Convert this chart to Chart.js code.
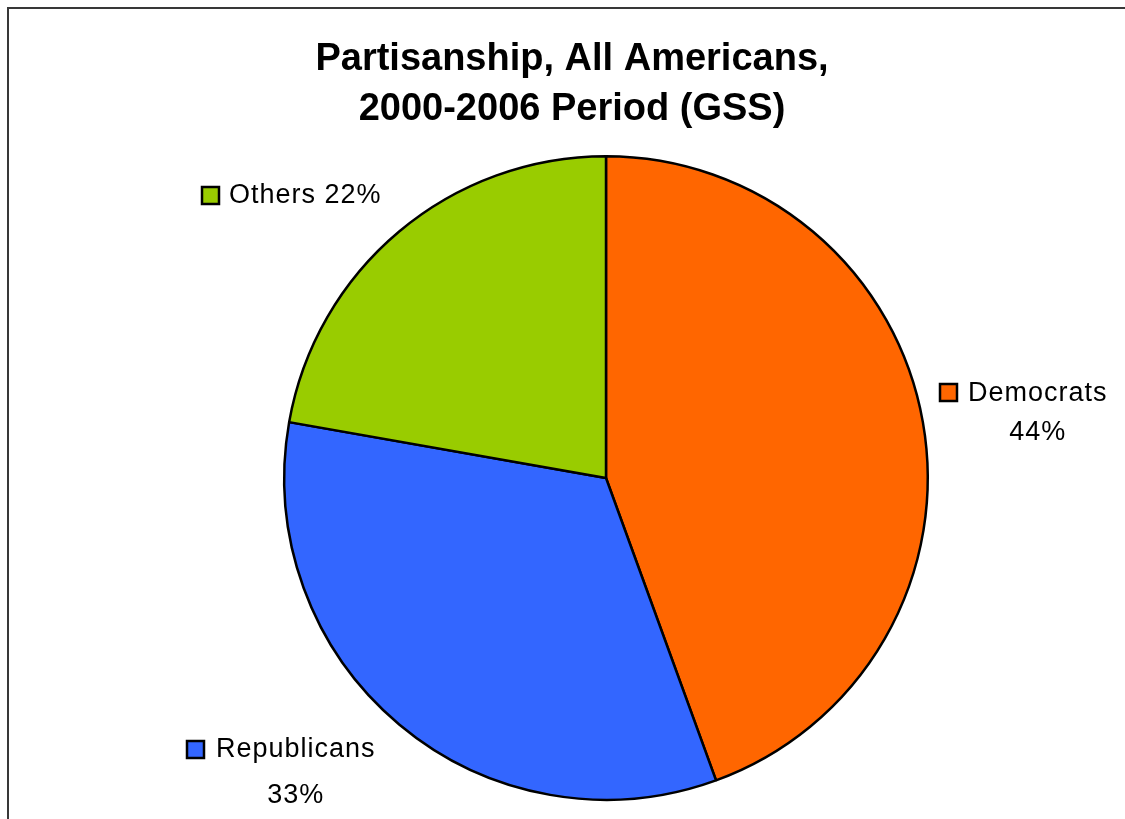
<!DOCTYPE html>
<html>
<head>
<meta charset="utf-8">
<script src="https://cdn.jsdelivr.net/npm/chart.js@4"></script>
<style>
  html, body { margin: 0; padding: 0; background: #fff; }
  #wrap { position: relative; width: 1125px; height: 819px; overflow: hidden; }
  #frame { position: absolute; left: 7px; top: 7px; right: -10px; bottom: -10px;
           border-top: 2px solid #383838; border-left: 2px solid #383838; }
  canvas { position: absolute; left: 0; top: 0; }
</style>
</head>
<body>
<div id="wrap">
  <canvas id="pieChart" width="1125" height="819"></canvas>
  <div id="frame"></div>
</div>
<script>
const labels = ['Democrats', 'Republicans', 'Others'];
const shares = [44, 33, 22];
const sliceColors = ['#FF6600', '#3366FF', '#99CC00'];
const titleLines = ['Partisanship, All Americans,', '2000-2006 Period (GSS)'];

// where each slice label sits (left x / baseline y, second line centred under the name)
const labelSpots = [
  { box: [940, 384], x: 968, y: 401, pctY: 440, inline: false },
  { box: [187, 741], x: 216, y: 757, pctY: 803, inline: false },
  { box: [202, 187], x: 229, y: 203, inline: true },
];

const annotate = {
  id: 'annotate',
  afterDraw(chart) {
    const ctx = chart.ctx;
    ctx.save();
    ctx.fillStyle = '#000';
    ctx.textAlign = 'center';
    ctx.textBaseline = 'alphabetic';
    ctx.font = 'bold 38px "Liberation Sans", Arial, sans-serif';
    ctx.fillText(titleLines[0], 572, 70);
    ctx.fillText(titleLines[1], 572, 120);

    ctx.font = '27px "Liberation Sans", Arial, sans-serif';
    ctx.letterSpacing = '1px';
    labels.forEach((name, i) => {
      const s = labelSpots[i];
      ctx.fillStyle = sliceColors[i];
      ctx.fillRect(s.box[0], s.box[1], 17, 17);
      ctx.strokeStyle = '#000';
      ctx.lineWidth = 2.5;
      ctx.strokeRect(s.box[0], s.box[1], 17, 17);
      ctx.fillStyle = '#000';
      const pct = shares[i] + '%';
      if (s.inline) {
        ctx.textAlign = 'left';
        ctx.fillText(name + ' ' + pct, s.x, s.y);
      } else {
        ctx.textAlign = 'left';
        ctx.fillText(name, s.x, s.y);
        const w = ctx.measureText(name).width;
        ctx.textAlign = 'center';
        ctx.fillText(pct, s.x + w / 2, s.pctY);
      }
    });
    ctx.restore();
  }
};

const ctx = document.getElementById('pieChart').getContext('2d');
new Chart(ctx, {
  type: 'pie',
  data: {
    labels: labels,
    datasets: [{
      data: shares,
      backgroundColor: sliceColors,
      borderColor: '#000',
      borderWidth: 2.5,
    }],
  },
  options: {
    responsive: false,
    animation: false,
    layout: { padding: { left: 283, right: 196, top: 155, bottom: 18 } },
    plugins: {
      legend: { display: false },
      title: { display: false },
      tooltip: { enabled: false },
    },
  },
  plugins: [annotate],
});
</script>
</body>
</html>
